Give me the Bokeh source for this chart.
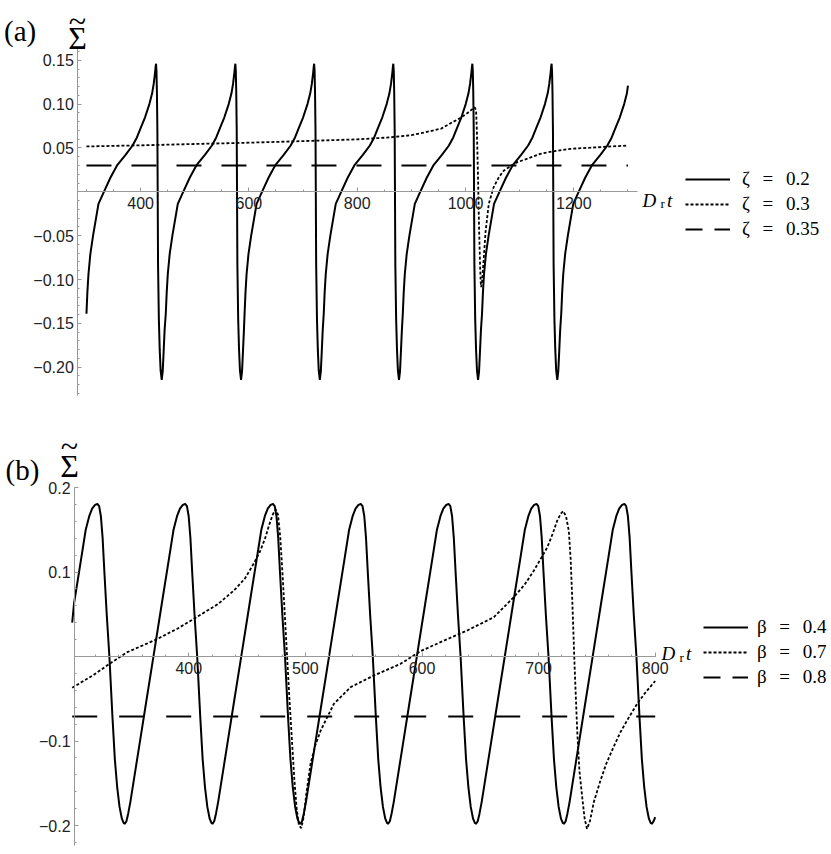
from bokeh.plotting import figure
from bokeh.layouts import column
from bokeh.models import (Range1d, SingleIntervalTicker, CustomJSTickFormatter,
                          Label, Legend, LegendItem)
from bokeh.embed import file_html
from bokeh.resources import INLINE

# ======================= DATA =======================
# ---- panel (a) ----
a_t_min, a_t_max = 300.0, 1300.0
SP = "\u2002\u2006"
a_labels = ["ζ" + SP + "=" + SP + "0.2", "ζ" + SP + "=" + SP + "0.3", "ζ" + SP + "=" + SP + "0.35"]

# zeta = 0.2 : times of the spikes (the last one lies just past the plotted end)
z02_peak_t = [428.5, 575.0, 720.5, 866.7, 1012.7, 1159.0, 1305.3]
# one period of the wave, time relative to its spike, and value
z02_cycle_dt = [-128.5, -126.8, -124.8, -121.3, -116.3, -106.3, -96.3, -84.3, -71.3,
                -56.3, -43.3, -35.3, -27.7, -20.3, -12.3, -7.3, -4.3, -1.8, -0.7, 0.0,
                0.8, 1.6, 2.5, 3.7, 5.2, 6.8, 8.5, 10.5, 12.3, 14.0, 15.8]
z02_cycle_val = [-0.139, -0.115, -0.094, -0.071, -0.050, -0.0137, 0.0, 0.016, 0.0308,
                 0.042, 0.0528, 0.062, 0.0737, 0.085, 0.100, 0.112, 0.123, 0.136, 0.143,
                 0.146, 0.138, 0.115, 0.070, -0.082, -0.145, -0.180, -0.204, -0.2145,
                 -0.205, -0.183, -0.158]
z02_end_val = 0.121

# zeta = 0.3
z03_t = [300, 400, 500, 600, 700, 800, 860, 900, 930, 955, 975, 990, 1003, 1012, 1017,
         1019.5, 1021, 1023, 1025, 1027, 1028.2, 1029, 1030, 1031, 1033, 1037, 1043, 1052,
         1062, 1071, 1085, 1096, 1115, 1138, 1165, 1194, 1250, 1300]
z03_val = [0.0517, 0.0530, 0.0545, 0.0560, 0.0578, 0.0598, 0.0620, 0.0645, 0.0685,
           0.0720, 0.0790, 0.0840, 0.0896, 0.0940, 0.0962, 0.0930, 0.0700, 0.0200,
           -0.0400, -0.0850, -0.1040, -0.1088, -0.1050, -0.1000, -0.0820, -0.0460,
           -0.0137, 0.0053, 0.0170, 0.0243, 0.0300, 0.0338, 0.0380, 0.0433, 0.0465,
           0.0490, 0.0510, 0.0528]

# zeta = 0.35
z035_t = [300, 1300]
z035_val = [0.030, 0.030]

# ---- panel (b) ----
b_t_min, b_t_max = 300.0, 800.0
b_labels = ["β" + SP + "=" + SP + "0.4", "β" + SP + "=" + SP + "0.7", "β" + SP + "=" + SP + "0.8"]

# beta = 0.4 : times of the maxima (the last one lies just past the plotted end)
b04_peak_t = [321.6, 396.9, 472.2, 547.5, 622.8, 698.2, 773.6, 849.0]
b04_cycle_dt = [-51.9, -50.4, -48.9, -47.0, -40.0, -33.0, -27.0, -20.0, -14.0, -10.0,
                -7.0, -4.5, -2.0, 0.0, 1.5, 3.0, 4.5, 6.0, 8.0, 10.3, 12.9, 15.0, 17.0,
                19.0, 21.0, 22.5]
b04_cycle_val = [-0.198, -0.195, -0.186, -0.172, -0.111, -0.050, 0.002, 0.063, 0.115,
                 0.150, 0.166, 0.175, 0.1795, 0.1805, 0.178, 0.166, 0.140, 0.100, 0.050,
                 0.0, -0.071, -0.122, -0.155, -0.178, -0.192, -0.197]
b04_start_val = 0.040
b04_end_val = -0.190

# beta = 0.7
b07_t = [300, 318.5, 332.8, 347.2, 371.4, 390.1, 407.2, 425, 438.6, 448, 455.7, 461,
         465.5, 469, 472, 474.5, 476.5, 478.5, 480.5, 482.5, 484.5, 486.5, 488.5, 490.5,
         492.5, 494.5, 496.5, 498.5, 501, 504.4, 508.5, 513, 524.4, 538.8, 558.7, 581.6,
         598.7, 615.9, 638.8, 661.6, 678.7, 688, 696, 707.4, 712, 716, 719, 721.1, 723.5,
         725.9, 727.5, 728.8, 730.8, 733.1, 735, 737.4, 739.5, 741.5, 744, 747.4, 753,
         758, 764, 770, 777, 785, 792, 800]
b07_val = [-0.037, -0.0217, -0.0079, 0.0051, 0.0197, 0.0328, 0.047, 0.062, 0.078, 0.092,
           0.110, 0.124, 0.140, 0.156, 0.168, 0.174, 0.168, 0.140, 0.095, 0.045, -0.005,
           -0.055, -0.100, -0.145, -0.180, -0.200, -0.203, -0.190, -0.160, -0.127, -0.105,
           -0.088, -0.056, -0.0363, -0.0225, -0.0087, 0.0063, 0.017, 0.0308, 0.0465,
           0.0702, 0.085, 0.1018, 0.129, 0.145, 0.161, 0.169, 0.172, 0.166, 0.149, 0.115,
           0.070, -0.0087, -0.0876, -0.135, -0.1665, -0.192, -0.204, -0.195, -0.172,
           -0.147, -0.127, -0.108, -0.090, -0.073, -0.055, -0.042, -0.029]

# beta = 0.8
b08_t = [300, 800]
b08_val = [-0.071, -0.071]


def place_cycles(peaks, dts, vals, t0, t1):
    """Lay the read-off wave period at each read-off peak time, keep [t0, t1]."""
    ts, vs = [], []
    for pk in peaks:
        for d, v in zip(dts, vals):
            t = pk + d
            if t0 - 1e-6 <= t <= t1:
                ts.append(t)
                vs.append(v)
    return ts, vs


z02_t, z02_val = place_cycles(z02_peak_t, z02_cycle_dt, z02_cycle_val, a_t_min, a_t_max)
z02_t = z02_t + [a_t_max]
z02_val = z02_val + [z02_end_val]

b04_t, b04_val = place_cycles(b04_peak_t, b04_cycle_dt, b04_cycle_val, b_t_min + 0.5, b_t_max)
b04_t = [b_t_min] + b04_t + [b_t_max]
b04_val = [b04_start_val] + b04_val + [b04_end_val]

# ======================= STYLE / LAYOUT =======================
SERIF = "Liberation Serif"
SANS = "Liberation Sans"
AXC = "#999999"
LBC = "#222222"
W = 831
HA = 400
HB = 453
NAN = float("nan")

# page-pixel -> data mappings used for annotation placement
def ax_a(px):
    return 800 + (px - 356.7) / 0.5415

def ay_a(py):
    return (191.3 - py) / 877.0

def ax_b(px):
    return 400 + (px - 188.3) / 1.166

def ay_b(py):
    return (656.0 - py) / 845.0


def make_panel(height, xr, yr, y_axis_at, xb, yb, xint, xminor, yint, yminor, ydec):
    p = figure(width=W, height=height, x_range=Range1d(*xr), y_range=Range1d(*yr),
               output_backend="svg", toolbar_location=None, min_border=0)
    p.min_border_left = p.min_border_right = p.min_border_top = p.min_border_bottom = 0
    p.outline_line_color = None
    p.background_fill_color = "white"
    p.border_fill_color = "white"
    p.xgrid.grid_line_color = None
    p.ygrid.grid_line_color = None
    xa = p.xaxis[0]
    ya = p.yaxis[0]
    xa.fixed_location = 0
    ya.fixed_location = y_axis_at
    xa.bounds = xb
    ya.bounds = yb
    xa.ticker = SingleIntervalTicker(interval=xint, num_minor_ticks=xminor)
    ya.ticker = SingleIntervalTicker(interval=yint, num_minor_ticks=yminor)
    ya.formatter = CustomJSTickFormatter(code=(
        "if (Math.abs(tick) < 1e-9) { return ''; }\n"
        "var s = Math.abs(tick).toFixed(%d);\n"
        "return (tick < 0 ? '\u2212' : '') + s;" % ydec))
    for a in (xa, ya):
        a.axis_line_color = AXC
        a.axis_line_width = 1
        a.major_tick_line_color = AXC
        a.minor_tick_line_color = AXC
        a.major_tick_in = 4
        a.major_tick_out = 0
        a.minor_tick_in = 2
        a.minor_tick_out = 0
        a.major_label_text_font = SANS
        a.major_label_text_font_size = "16px"
        a.major_label_text_color = LBC
    xa.major_label_standoff = 5
    ya.major_label_standoff = 4
    return p


def add_text(p, x, y, text, size, style="normal", align="left", line_height=1.2):
    p.add_layout(Label(x=x, y=y, text=text, text_font=SERIF, text_font_size=size,
                       text_font_style=style, text_align=align,
                       text_baseline="alphabetic", text_color="black",
                       text_line_height=line_height))


def add_legend(p, labels, solid_r, dotted_r, dashed_r, loc, spacing, standoff):
    items = [LegendItem(label=labels[0], renderers=[solid_r]),
             LegendItem(label=labels[1], renderers=[dotted_r]),
             LegendItem(label=labels[2], renderers=[dashed_r])]
    lg = Legend(items=items, location=loc, orientation="vertical",
                glyph_width=45, glyph_height=22, label_height=22, label_width=10,
                spacing=spacing, padding=0, margin=0, label_standoff=standoff,
                border_line_color=None, background_fill_alpha=0,
                label_text_font=SERIF, label_text_font_size="19px",
                label_text_color="black")
    p.add_layout(lg)


SIGMA_TILDE = "~\nΣ"

# ---------------- panel (a) ----------------
pa = make_panel(HA, (ax_a(0), ax_a(W)), (ay_a(HA), ay_a(0)), 284.0,
                (284.0, 1318.0), (-0.2325, 0.166), 200, 4, 0.05, 5, 2)
ra1 = pa.line(z02_t, z02_val, line_color="black", line_width=2.0)
ra2 = pa.line(z03_t, z03_val, line_color="black", line_width=1.8, line_dash="3 2")
pa.line(z035_t, z035_val, line_color="black", line_width=2.0, line_dash="25 20")
la3 = pa.line([NAN], [NAN], line_color="black", line_width=2.0, line_dash="17 12")
add_legend(pa, a_labels, ra1, ra2, la3, (685, HA - 240), 3, 12)

add_text(pa, ax_a(3.5), ay_a(30), "(a)", "29px")
add_text(pa, ax_a(77), ay_a(29), SIGMA_TILDE, "32px", align="center", line_height=0.45)
add_text(pa, ax_a(642), ay_a(200), "D", "19px", "italic")
add_text(pa, ax_a(660), ay_a(203), "r", "13px")
add_text(pa, ax_a(666.5), ay_a(200), "t", "19px", "italic")

# ---------------- panel (b) ----------------
pb = make_panel(HB, (ax_b(0), ax_b(W)), (ay_b(HA + HB), ay_b(HA)), 302.0,
                (302.0, 800.1), (-0.2237, 0.2), 100, 5, 0.1, 5, 1)
rb1 = pb.line(b04_t, b04_val, line_color="black", line_width=2.0)
rb2 = pb.line(b07_t, b07_val, line_color="black", line_width=1.8, line_dash="3 2")
pb.line(b08_t, b08_val, line_color="black", line_width=2.0, line_dash="25 22")
lb3 = pb.line([NAN], [NAN], line_color="black", line_width=2.0, line_dash="17 12")
add_legend(pb, b_labels, rb1, rb2, lb3, (703, HB - (616 - HA) - 72), 3, 9)

add_text(pb, ax_b(5), ay_b(469), "(b)", "29px")
add_text(pb, ax_b(69), ay_b(455.5), SIGMA_TILDE, "32px", align="center", line_height=0.54)
add_text(pb, ax_b(661), ay_b(653), "D", "19px", "italic")
add_text(pb, ax_b(679), ay_b(657), "r", "13px")
add_text(pb, ax_b(685.5), ay_b(653), "t", "19px", "italic")

layout = column(pa, pb, spacing=0)
open("out.html", "w", encoding="utf-8").write(file_html(layout, INLINE))
